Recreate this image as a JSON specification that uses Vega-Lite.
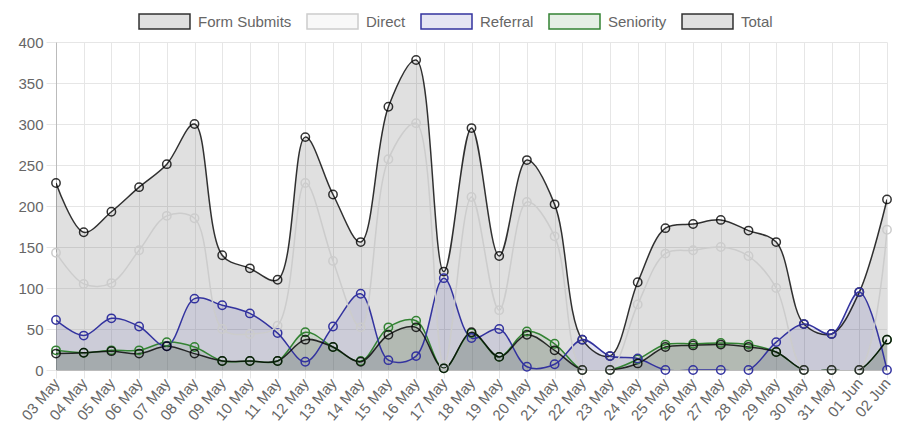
{
  "$schema": "https://vega.github.io/schema/vega-lite/v6.json",
  "width": 831,
  "height": 328,
  "autosize": {"type": "none"},
  "padding": {"left": 56, "top": 42, "right": 12, "bottom": 64},
  "background": "white",
  "data": {
    "values": [
      {"d": "03 May", "Form Submits": 20, "Direct": 143, "Referral": 61, "Seniority": 24, "Total": 228},
      {"d": "04 May", "Form Submits": 21, "Direct": 105, "Referral": 42, "Seniority": 21, "Total": 168},
      {"d": "05 May", "Form Submits": 23, "Direct": 106, "Referral": 63, "Seniority": 24, "Total": 193},
      {"d": "06 May", "Form Submits": 20, "Direct": 146, "Referral": 53, "Seniority": 24, "Total": 223},
      {"d": "07 May", "Form Submits": 29, "Direct": 188, "Referral": 29, "Seniority": 34, "Total": 251},
      {"d": "08 May", "Form Submits": 20, "Direct": 185, "Referral": 87, "Seniority": 28, "Total": 300},
      {"d": "09 May", "Form Submits": 11, "Direct": 50, "Referral": 79, "Seniority": 11, "Total": 140},
      {"d": "10 May", "Form Submits": 11, "Direct": 44, "Referral": 69, "Seniority": 11, "Total": 124},
      {"d": "11 May", "Form Submits": 11, "Direct": 54, "Referral": 45, "Seniority": 11, "Total": 110},
      {"d": "12 May", "Form Submits": 37, "Direct": 228, "Referral": 10, "Seniority": 46, "Total": 284},
      {"d": "13 May", "Form Submits": 28, "Direct": 133, "Referral": 53, "Seniority": 28, "Total": 214},
      {"d": "14 May", "Form Submits": 10, "Direct": 52, "Referral": 93, "Seniority": 11, "Total": 156},
      {"d": "15 May", "Form Submits": 43, "Direct": 257, "Referral": 12, "Seniority": 52, "Total": 321},
      {"d": "16 May", "Form Submits": 52, "Direct": 301, "Referral": 17, "Seniority": 60, "Total": 378},
      {"d": "17 May", "Form Submits": 2, "Direct": 6, "Referral": 112, "Seniority": 2, "Total": 120},
      {"d": "18 May", "Form Submits": 46, "Direct": 211, "Referral": 39, "Seniority": 45, "Total": 295},
      {"d": "19 May", "Form Submits": 16, "Direct": 73, "Referral": 50, "Seniority": 16, "Total": 139},
      {"d": "20 May", "Form Submits": 43, "Direct": 205, "Referral": 4, "Seniority": 47, "Total": 256},
      {"d": "21 May", "Form Submits": 24, "Direct": 163, "Referral": 7, "Seniority": 32, "Total": 202},
      {"d": "22 May", "Form Submits": 0, "Direct": 0, "Referral": 37, "Seniority": 0, "Total": 37},
      {"d": "23 May", "Form Submits": 0, "Direct": 0, "Referral": 17, "Seniority": 0, "Total": 17},
      {"d": "24 May", "Form Submits": 8, "Direct": 80, "Referral": 14, "Seniority": 13, "Total": 107},
      {"d": "25 May", "Form Submits": 28, "Direct": 142, "Referral": 0, "Seniority": 31, "Total": 173},
      {"d": "26 May", "Form Submits": 30, "Direct": 146, "Referral": 0, "Seniority": 32, "Total": 178},
      {"d": "27 May", "Form Submits": 31, "Direct": 150, "Referral": 0, "Seniority": 33, "Total": 183},
      {"d": "28 May", "Form Submits": 28, "Direct": 139, "Referral": 0, "Seniority": 31, "Total": 170},
      {"d": "29 May", "Form Submits": 22, "Direct": 100, "Referral": 34, "Seniority": 22, "Total": 156},
      {"d": "30 May", "Form Submits": 0, "Direct": 0, "Referral": 56, "Seniority": 0, "Total": 56},
      {"d": "31 May", "Form Submits": 0, "Direct": 0, "Referral": 44, "Seniority": 0, "Total": 44},
      {"d": "01 Jun", "Form Submits": 0, "Direct": 0, "Referral": 95, "Seniority": 0, "Total": 95},
      {"d": "02 Jun", "Form Submits": 37, "Direct": 171, "Referral": 0, "Seniority": 37, "Total": 208}
    ]
  },
  "transform": [
    {"fold": ["Total", "Seniority", "Referral", "Direct", "Form Submits"], "as": ["series", "value"]}
  ],
  "encoding": {
    "x": {
      "field": "d",
      "type": "nominal",
      "sort": null,
      "scale": {"type": "point", "padding": 0},
      "axis": {"title": null, "labelAngle": -50, "grid": true}
    },
    "y": {
      "field": "value",
      "type": "quantitative",
      "stack": null,
      "scale": {"domain": [0, 400], "nice": false},
      "axis": {"title": null, "values": [0, 50, 100, 150, 200, 250, 300, 350, 400], "grid": true}
    }
  },
  "layer": [
    {
      "mark": {"type": "area", "interpolate": "catmull-rom", "clip": true},
      "encoding": {
        "fill": {
          "field": "series",
          "type": "nominal",
          "title": null,
          "scale": {
            "domain": ["Form Submits", "Direct", "Referral", "Seniority", "Total"],
            "range": ["rgba(0,0,0,0.12)", "rgba(220,220,220,0.2)", "rgba(0,0,139,0.1)", "rgba(0,100,0,0.1)", "rgba(0,0,0,0.12)"]
          },
          "legend": {
            "orient": "none",
            "direction": "horizontal",
            "legendX": 82,
            "legendY": -47,
            "symbolType": "M-1,-0.294H1V0.294H-1Z",
            "symbolSize": 2601,
            "symbolStrokeWidth": 1.5,
            "labelOffset": 7,
            "columnPadding": 12
          }
        }
      }
    },
    {
      "mark": {"type": "line", "interpolate": "catmull-rom", "strokeWidth": 1.5, "clip": true},
      "encoding": {
        "stroke": {
          "field": "series",
          "type": "nominal",
          "title": null,
          "scale": {
            "domain": ["Form Submits", "Direct", "Referral", "Seniority", "Total"],
            "range": ["rgba(0,0,0,0.8)", "#cccccc", "#33339f", "#338333", "rgba(0,0,0,0.8)"]
          }
        }
      }
    },
    {
      "mark": {"type": "point", "shape": "circle", "filled": false, "size": 70, "strokeWidth": 1.5, "opacity": 1},
      "encoding": {
        "stroke": {"field": "series", "type": "nominal", "title": null}
      }
    }
  ],
  "config": {
    "font": "Liberation Sans",
    "view": {"stroke": null},
    "axis": {
      "labelFont": "Liberation Sans",
      "labelFontSize": 15,
      "labelColor": "#666666",
      "gridColor": "#e6e6e6",
      "tickColor": "#e6e6e6",
      "domainColor": "#bbbbbb"
    },
    "axisY": {"tickSize": 10, "labelPadding": 3},
    "axisX": {"tickSize": 8, "labelPadding": 2},
    "legend": {
      "labelFont": "Liberation Sans",
      "labelFontSize": 15,
      "labelColor": "#666666"
    }
  }
}
